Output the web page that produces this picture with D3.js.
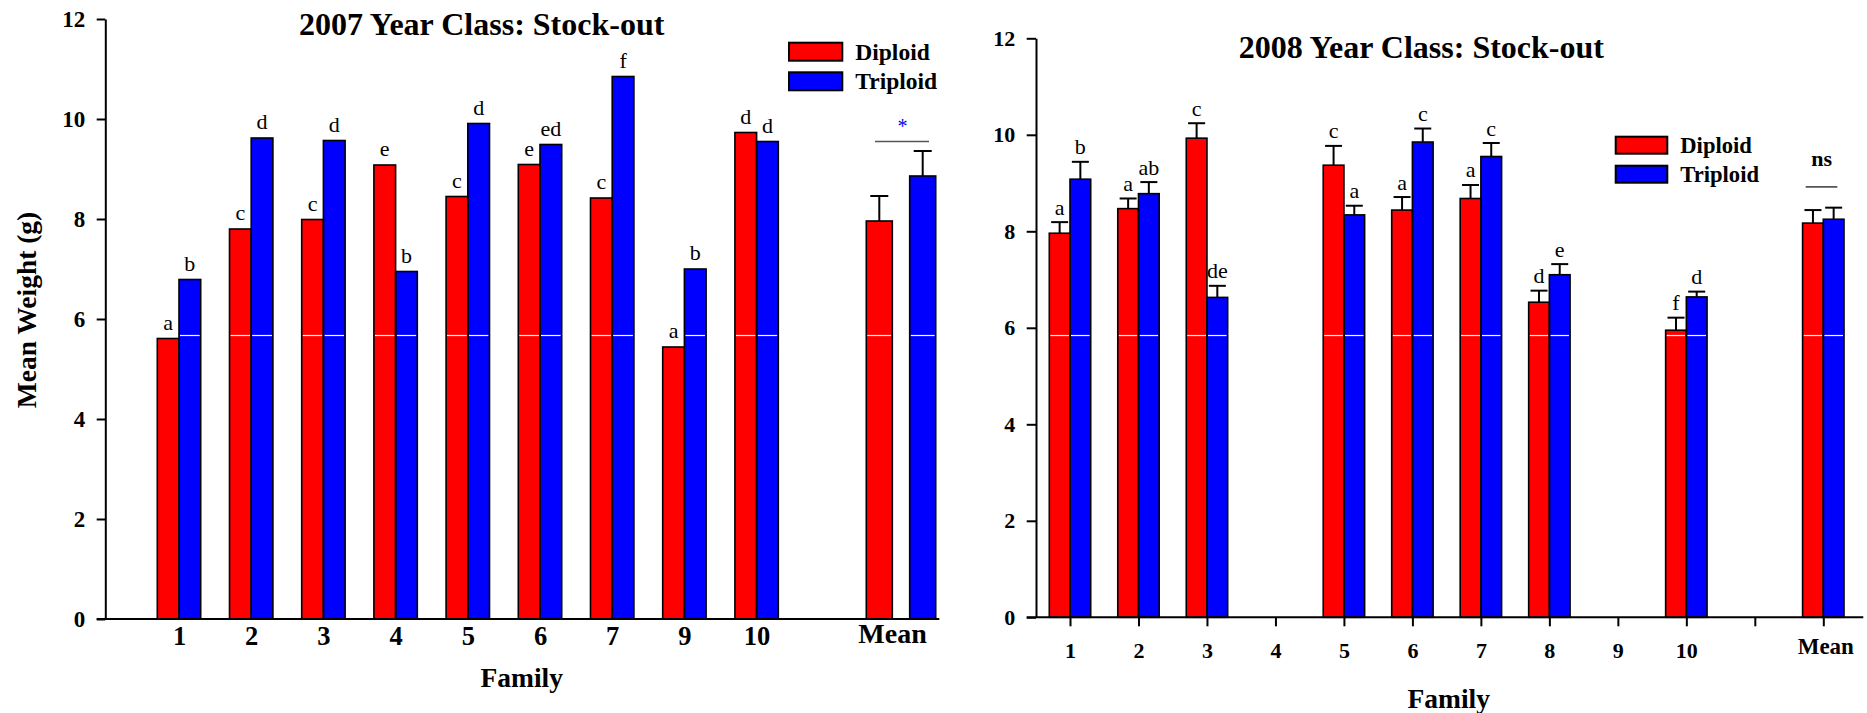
<!DOCTYPE html>
<html>
<head>
<meta charset="utf-8">
<script src="https://cdn.jsdelivr.net/npm/d3@7"></script>
<style>
  body { margin: 0; background: #fff; }
  svg { display: block; }
  text { font-family: "Liberation Serif", "Times New Roman", Times, serif; fill: #000; }
</style>
</head>
<body>
<svg id="chart" width="1867" height="713"></svg>
<script>
// ---- 2007 year class: family means at stock-out (g) ----
const families2007 = ["1", "2", "3", "4", "5", "6", "7", "9", "10"];
const diploid2007 = [5.61, 7.80, 7.99, 9.08, 8.45, 9.09, 8.42, 5.44, 9.73];
const triploid2007 = [6.79, 9.62, 9.57, 6.95, 9.91, 9.49, 10.85, 7.00, 9.55];
const diploidLetters2007 = ["a", "c", "c", "e", "c", "e", "c", "a", "d"];
const triploidLetters2007 = ["b", "d", "d", "b", "d", "ed", "f", "b", "d"];
const mean2007 = [7.96, 8.86];
const meanSE2007 = [0.50, 0.50];
const sigMark2007 = "*";
const sigLevel2007 = 9.55;

// ---- 2008 year class: family means at stock-out (g), with SE ----
const families2008 = ["1", "2", "3", "4", "5", "6", "7", "8", "9", "10"];
const diploid2008 = [7.96, 8.47, 9.93, null, 9.37, 8.44, 8.68, 6.53, null, 5.95];
const diploidSE2008 = [0.23, 0.21, 0.31, null, 0.40, 0.27, 0.28, 0.24, null, 0.26];
const triploid2008 = [9.08, 8.78, 6.63, null, 8.34, 9.85, 9.55, 7.10, null, 6.64];
const triploidSE2008 = [0.36, 0.24, 0.24, null, 0.19, 0.28, 0.28, 0.22, null, 0.11];
const diploidLetters2008 = ["a", "a", "c", "", "c", "a", "a", "d", "", "f"];
const triploidLetters2008 = ["b", "ab", "de", "", "a", "c", "c", "e", "", "d"];
const mean2008 = [8.17, 8.25];
const meanSE2008 = [0.27, 0.24];
const sigMark2008 = "ns";
const sigLevel2008 = 8.92;

const yTicks = [0, 2, 4, 6, 8, 10, 12];
const seriesNames = ["Diploid", "Triploid"];
const seriesColors = ["#ff0000", "#0000ff"];
const whiteRule = [5.67, 5.84]; // thin white rule crossing the bar fills

const svg = d3.select("#chart");

function drawPanel(p) {
  const g = svg.append("g");
  const y = d3.scaleLinear().domain([0, 12]).range([p.bottom, p.top]);
  const x = d3.scalePoint().domain(p.slots).range([p.firstX, p.lastX]);

  // assemble bar records from the series arrays
  const bars = [];
  p.families.forEach((f, i) => {
    [p.dip, p.tri].forEach((arr, s) => {
      const v = arr[i];
      if (v == null) return;
      bars.push({
        key: f, s, v,
        se: p.se ? p.se[s][i] : null,
        letter: p.letters[s][i],
        w: p.barW,
        x0: s === 0 ? x(f) - p.barW : x(f)
      });
    });
  });
  p.mean.forEach((v, s) => {
    bars.push({
      key: "Mean", s, v, se: p.meanSE[s], letter: "",
      w: p.meanW,
      x0: x("Mean") + (s === 0 ? -p.meanOff : p.meanOff) - p.meanW / 2
    });
  });

  // bar fills
  g.selectAll("rect.fill").data(bars).join("rect")
    .attr("x", d => d.x0).attr("width", d => d.w)
    .attr("y", d => y(d.v)).attr("height", d => y(0) - y(d.v))
    .attr("fill", d => seriesColors[d.s]);

  // white rule across fills
  g.selectAll("line.rule").data(bars.filter(d => d.v > p.rule)).join("line")
    .attr("x1", d => d.x0 + 1).attr("x2", d => d.x0 + d.w - 1)
    .attr("y1", y(p.rule)).attr("y2", y(p.rule))
    .attr("stroke", "#fff").attr("stroke-width", 1.2);

  // bar outlines
  g.selectAll("rect.edge").data(bars).join("rect")
    .attr("x", d => d.x0).attr("width", d => d.w)
    .attr("y", d => y(d.v)).attr("height", d => y(0) - y(d.v))
    .attr("fill", "none").attr("stroke", "#000").attr("stroke-width", 1.6);

  // error bars (upper arm)
  const eb = bars.filter(d => d.se != null);
  g.selectAll("line.stem").data(eb).join("line")
    .attr("x1", d => d.x0 + d.w / 2).attr("x2", d => d.x0 + d.w / 2)
    .attr("y1", d => y(d.v)).attr("y2", d => y(d.v + d.se))
    .attr("stroke", "#000").attr("stroke-width", 2);
  g.selectAll("line.cap").data(eb).join("line")
    .attr("x1", d => d.x0 + d.w / 2 - p.capW / 2).attr("x2", d => d.x0 + d.w / 2 + p.capW / 2)
    .attr("y1", d => y(d.v + d.se)).attr("y2", d => y(d.v + d.se))
    .attr("stroke", "#000").attr("stroke-width", 2);

  // letter groupings above bars
  g.selectAll("text.letter").data(bars.filter(d => d.letter)).join("text")
    .attr("x", d => d.x0 + d.w / 2)
    .attr("y", d => y(d.se != null ? d.v + d.se : d.v) - p.letterGap)
    .attr("text-anchor", "middle")
    .style("font-size", p.letterSize + "px")
    .text(d => d.letter);

  // significance between the two means
  const mx = x("Mean");
  g.append("line")
    .attr("x1", mx + p.sigX[0]).attr("x2", mx + p.sigX[1])
    .attr("y1", y(p.sigLevel)).attr("y2", y(p.sigLevel))
    .attr("stroke", "#555").attr("stroke-width", 1.6);
  g.append("text")
    .attr("x", mx + p.sigTextDx).attr("y", y(p.sigLevel) - p.sigTextGap)
    .attr("text-anchor", "middle")
    .style("font-size", p.sigSize + "px")
    .style("font-weight", p.sigBold ? "bold" : "normal")
    .style("fill", p.sigColor)
    .text(p.sigMark);

  // y axis
  const ya = g.append("g").attr("transform", `translate(${p.left},0)`)
    .call(d3.axisLeft(y).tickValues(yTicks).tickSize(p.tick).tickSizeOuter(0).tickPadding(p.yPad));
  ya.select(".domain").attr("stroke-width", 2);
  ya.selectAll(".tick line").attr("stroke-width", 2);
  ya.selectAll(".tick text")
    .style("font-family", '"Liberation Serif", serif')
    .style("font-weight", "bold").style("font-size", p.yTickSize + "px");

  // x baseline
  g.append("line")
    .attr("x1", p.left - p.tick).attr("x2", p.right)
    .attr("y1", y(0)).attr("y2", y(0))
    .attr("stroke", "#000").attr("stroke-width", 2);

  // x axis ticks / labels
  const xa = g.append("g").attr("transform", `translate(0,${y(0)})`)
    .call(d3.axisBottom(x).tickSize(p.xTick).tickPadding(p.xPad));
  xa.select(".domain").remove();
  xa.selectAll(".tick line").attr("stroke-width", 2);
  xa.selectAll(".tick").filter(d => !p.labels.includes(d)).select("text").remove();
  xa.selectAll(".tick text")
    .style("font-family", '"Liberation Serif", serif')
    .style("font-weight", "bold")
    .style("font-size", d => (d === "Mean" ? p.meanLabelSize : p.xLabelSize) + "px")
    .attr("x", d => d === "Mean" ? p.meanLabelDx : 0)
    .attr("y", d => d === "Mean" ? p.xTick + p.xPad + p.meanLabelDy : p.xTick + p.xPad);
  if (!p.showXTicks) xa.selectAll(".tick line").remove();

  // titles
  g.append("text")
    .attr("x", p.titleX).attr("y", p.titleY)
    .attr("text-anchor", "middle")
    .style("font-weight", "bold").style("font-size", "32px")
    .text(p.title);
  g.append("text")
    .attr("x", p.familyX).attr("y", p.familyY)
    .attr("text-anchor", "middle")
    .style("font-weight", "bold").style("font-size", "27.5px")
    .text("Family");
  if (p.yTitle) {
    g.append("text")
      .attr("transform", `translate(${p.yTitleX},${(p.top + p.bottom) / 2 - 9}) rotate(-90)`)
      .attr("text-anchor", "middle")
      .style("font-weight", "bold").style("font-size", "27.5px")
      .text(p.yTitle);
  }

  // legend
  const lg = g.append("g");
  seriesNames.forEach((name, s) => {
    lg.append("rect")
      .attr("x", p.legX).attr("y", p.legY + s * p.legStep)
      .attr("width", p.legW).attr("height", p.legH)
      .attr("fill", seriesColors[s]).attr("stroke", "#000").attr("stroke-width", 2);
    lg.append("text")
      .attr("x", p.legX + p.legW + 13).attr("y", p.legY + s * p.legStep + p.legH - 1)
      .style("font-weight", "bold").style("font-size", p.legSize + "px")
      .text(name);
  });
}

drawPanel({
  families: families2007,
  slots: [...families2007, "blank", "Mean"],
  labels: [...families2007, "Mean"],
  dip: diploid2007, tri: triploid2007, se: null,
  letters: [diploidLetters2007, triploidLetters2007],
  mean: mean2007, meanSE: meanSE2007,
  sigMark: sigMark2007, sigLevel: sigLevel2007, sigX: [-26, 28], sigTextDx: 1.5,
  sigTextGap: 9, sigSize: 20, sigBold: false, sigColor: "#0000ff",
  rule: whiteRule[0],
  left: 105.3, right: 939.3, top: 19, bottom: 619,
  firstX: 179, lastX: 901,
  barW: 21.7, meanW: 26, meanOff: 21.7, capW: 18,
  tick: 8.6, yPad: 11.5, yTickSize: 23,
  xTick: 0, xPad: 7, showXTicks: false, xLabelSize: 26.5, meanLabelSize: 28, meanLabelDy: -3, meanLabelDx: -9,
  letterGap: 9, letterSize: 22,
  title: "2007 Year Class: Stock-out", titleX: 481.7, titleY: 35,
  familyX: 521.7, familyY: 686.7,
  yTitle: "Mean Weight (g)", yTitleX: 36,
  legX: 789, legY: 42.7, legW: 53.3, legH: 18, legStep: 29.6, legSize: 23.5
});

drawPanel({
  families: families2008,
  slots: [...families2008, "blank", "Mean"],
  labels: [...families2008, "Mean"],
  dip: diploid2008, tri: triploid2008, se: [diploidSE2008, triploidSE2008],
  letters: [diploidLetters2008, triploidLetters2008],
  mean: mean2008, meanSE: meanSE2008,
  sigMark: sigMark2008, sigLevel: sigLevel2008, sigX: [-17.6, 14], sigTextDx: -1.6,
  sigTextGap: 21, sigSize: 22, sigBold: true, sigColor: "#000",
  rule: whiteRule[1],
  left: 1036, right: 1863.3, top: 38.3, bottom: 617.3,
  firstX: 1070, lastX: 1823.3,
  barW: 20.7, meanW: 20.7, meanOff: 10.35, capW: 17,
  tick: 9.3, yPad: 11.5, yTickSize: 22,
  xTick: 9, xPad: 16.4, showXTicks: true, xLabelSize: 22, meanLabelSize: 23, meanLabelDy: -5, meanLabelDx: 2,
  letterGap: 7.5, letterSize: 22,
  title: "2008 Year Class: Stock-out", titleX: 1421.3, titleY: 58.3,
  familyX: 1448.7, familyY: 708,
  yTitle: null,
  legX: 1615.7, legY: 136.7, legW: 51.6, legH: 17, legStep: 29, legSize: 22.6
});
</script>
</body>
</html>
